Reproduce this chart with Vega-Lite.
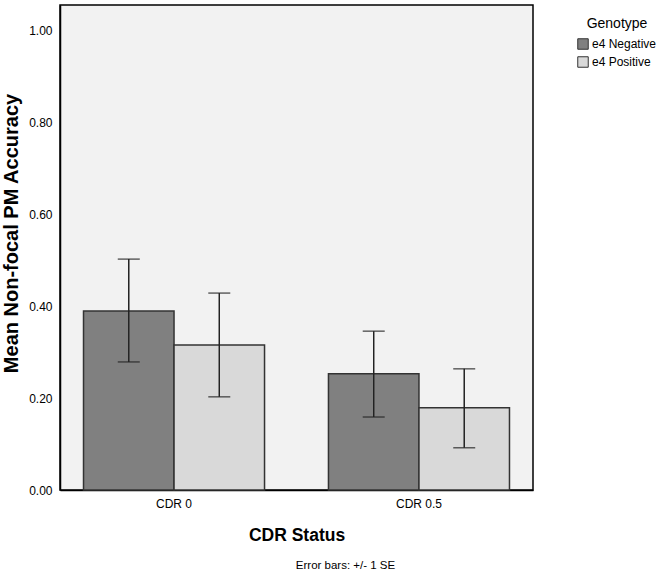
{
  "$schema": "https://vega.github.io/schema/vega-lite/v6.json",
  "width": 473,
  "height": 485,
  "autosize": {"type": "none"},
  "padding": {"left": 60, "top": 5, "right": 131, "bottom": 85},
  "background": "white",
  "config": {
    "font": "Liberation Sans",
    "view": {"fill": "#f2f2f2", "stroke": "#000000", "strokeWidth": 1.5}
  },
  "title": {
    "text": "Error bars: +/- 1 SE",
    "orient": "bottom",
    "anchor": "middle",
    "frame": "group",
    "dx": 49,
    "offset": 16,
    "fontSize": 11.5,
    "fontWeight": "normal",
    "color": "#000000"
  },
  "data": {
    "values": [
      {"cdr": "CDR 0", "genotype": "e4 Negative", "mean": 0.390, "lo": 0.279, "hi": 0.503},
      {"cdr": "CDR 0", "genotype": "e4 Positive", "mean": 0.316, "lo": 0.203, "hi": 0.429},
      {"cdr": "CDR 0.5", "genotype": "e4 Negative", "mean": 0.253, "lo": 0.159, "hi": 0.346},
      {"cdr": "CDR 0.5", "genotype": "e4 Positive", "mean": 0.179, "lo": 0.092, "hi": 0.264}
    ]
  },
  "encoding": {
    "x": {
      "field": "cdr",
      "type": "nominal",
      "scale": {"paddingInner": 0.261, "paddingOuter": 0.096},
      "axis": {
        "title": "CDR Status",
        "titleFontSize": 17.5,
        "titleFontWeight": "bold",
        "titleColor": "#000000",
        "titlePadding": 17,
        "labelAngle": 0,
        "labelFontSize": 12,
        "labelColor": "#000000",
        "labelPadding": 8,
        "ticks": false,
        "domainColor": "#000000",
        "domainWidth": 1.5,
        "grid": false
      }
    },
    "xOffset": {"field": "genotype", "type": "nominal", "scale": {"paddingInner": 0, "paddingOuter": 0}}
  },
  "layer": [
    {
      "mark": {"type": "bar", "stroke": "#333333", "strokeWidth": 1.5},
      "encoding": {
        "y": {
          "field": "mean",
          "type": "quantitative",
          "scale": {"domain": [0, 1.0566], "nice": false},
          "axis": {
            "title": "Mean Non-focal PM Accuracy",
            "titleFontSize": 20,
            "titleFontWeight": "bold",
            "titleColor": "#000000",
            "titlePadding": 7,
            "titleY": 228,
            "values": [0, 0.2, 0.4, 0.6, 0.8, 1.0],
            "format": ".2f",
            "labelFontSize": 12,
            "labelColor": "#000000",
            "labelPadding": 8,
            "ticks": false,
            "domainColor": "#000000",
            "domainWidth": 1.5,
            "grid": false
          }
        },
        "fill": {
          "field": "genotype",
          "type": "nominal",
          "scale": {"domain": ["e4 Negative", "e4 Positive"], "range": ["#808080", "#d9d9d9"]},
          "legend": {
            "title": "Genotype",
            "orient": "none",
            "legendX": 517,
            "legendY": 12,
            "titleFontSize": 14,
            "titleFontWeight": "normal",
            "titleColor": "#000000",
            "titleAnchor": "middle",
            "titlePadding": 7,
            "labelFontSize": 12,
            "labelColor": "#000000",
            "labelOffset": 3,
            "symbolType": "square",
            "symbolSize": 110,
            "symbolStrokeColor": "#333333",
            "symbolStrokeWidth": 1,
            "symbolOpacity": 1,
            "rowPadding": 2
          }
        }
      }
    },
    {
      "mark": {"type": "rule", "color": "#222222", "strokeWidth": 1.5},
      "encoding": {
        "y": {"field": "lo", "type": "quantitative"},
        "y2": {"field": "hi"}
      }
    },
    {
      "mark": {"type": "tick", "color": "#222222", "thickness": 1.5, "size": 22, "orient": "horizontal"},
      "encoding": {"y": {"field": "lo", "type": "quantitative"}}
    },
    {
      "mark": {"type": "tick", "color": "#222222", "thickness": 1.5, "size": 22, "orient": "horizontal"},
      "encoding": {"y": {"field": "hi", "type": "quantitative"}}
    }
  ]
}
